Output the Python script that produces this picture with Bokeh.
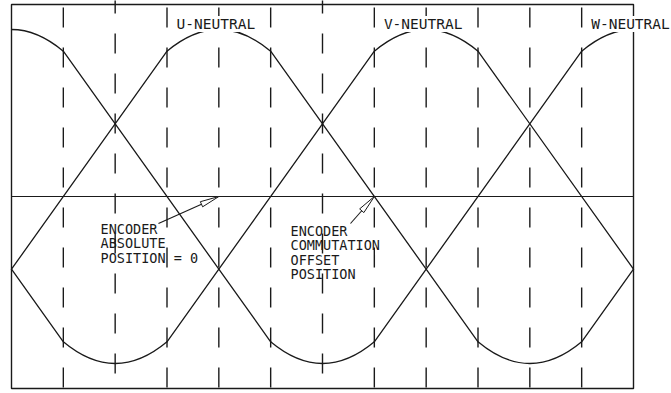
import math
from bokeh.plotting import figure
from bokeh.models import Label, Range1d
from bokeh.core.properties import value
from bokeh.embed import file_html
from bokeh.resources import INLINE

# ---------------- data ----------------
phase_names = ["U", "V", "W"]
peak_step = [4, 8, 0]            # position of each phase's positive peak, in 30-degree steps
steps_per_cycle = 12             # 360 electrical degrees
peak_level = 1.0                 # normalised peak
knee_level = 0.87                # level at +-30 deg from a peak (end of rounded cap)
neutral_labels = ["U-NEUTRAL", "V-NEUTRAL", "W-NEUTRAL"]
dash_steps = [1, 2, 3, 4, 5, 6, 7, 8, 9, 10, 11]
dash_steps_shifted = [2, 6]      # lines whose dash pattern starts at a different phase
callout_tip_x = [4, 7]           # encoder absolute zero, commutation offset (steps)
callout_tip_y = [0.0, 0.0]
callout_lines = [["ENCODER", "ABSOLUTE", "POSITION = 0"],
                 ["ENCODER", "COMMUTATION", "OFFSET", "POSITION"]]

# ---------------- layout helpers (page pixels -> data) ----------------
W_PX, H_PX = 671, 393
PX_X = 622 / 12.0    # pixels per 30-degree step
PX_Y = 167.0         # pixels per unit amplitude
X0 = 11.0            # page x of step 0
YC = 196.0           # page y of zero level


def xd(px):
    return (px - X0) / PX_X


def yd(py):
    return (YC - py) / PX_Y


INK = "#1a1a1a"
FONT = "DejaVu Sans Mono"
LO, HI = 0, steps_per_cycle

p = figure(width=W_PX, height=H_PX, output_backend="svg", toolbar_location=None,
           x_range=Range1d(xd(0), xd(W_PX)), y_range=Range1d(yd(H_PX), yd(0)),
           x_axis_type=None, y_axis_type=None)
p.min_border = 0
p.min_border_left = 0
p.min_border_right = 0
p.min_border_top = 0
p.min_border_bottom = 0
p.outline_line_color = None
p.background_fill_color = "white"
p.border_fill_color = "white"
p.grid.visible = False

# ---------------- dashed step lines ----------------
normal = [s for s in dash_steps if s not in dash_steps_shifted]
p.segment(x0=normal, y0=[yd(7)] * len(normal), x1=normal, y1=[yd(H_PX + 1)] * len(normal),
          line_color=INK, line_width=1.4, line_dash="20 20")
p.segment(x0=dash_steps_shifted, y0=[yd(-7)] * len(dash_steps_shifted),
          x1=dash_steps_shifted, y1=[yd(H_PX + 1)] * len(dash_steps_shifted),
          line_color=INK, line_width=1.4, line_dash="20 20")

# ---------------- box and zero line ----------------
p.quad(left=[LO], right=[HI], top=[yd(4)], bottom=[yd(388)],
       fill_color=None, line_color=INK, line_width=1.4)
p.segment(x0=[LO], y0=[0], x1=[HI], y1=[0], line_color=INK, line_width=1.2)


# ---------------- phase waveforms (clipped to the box) ----------------
def clip_seg(x0, y0, x1, y1):
    if x1 <= LO or x0 >= HI:
        return None
    if x0 < LO:
        y0 = y0 + (y1 - y0) * (LO - x0) / (x1 - x0); x0 = LO
    if x1 > HI:
        y1 = y0 + (y1 - y0) * (HI - x0) / (x1 - x0); x1 = HI
    return x0, y0, x1, y1


def clip_cap(x0, y0, x1, y1, cx, cy):
    if x1 <= LO or x0 >= HI:
        return None
    mx, my = 0.25 * x0 + 0.5 * cx + 0.25 * x1, 0.25 * y0 + 0.5 * cy + 0.25 * y1
    if x0 < LO:   # keep right half
        return mx, my, x1, y1, (cx + x1) / 2, (cy + y1) / 2
    if x1 > HI:   # keep left half
        return x0, y0, mx, my, (x0 + cx) / 2, (y0 + cy) / 2
    return x0, y0, x1, y1, cx, cy


cap = dict(x0=[], y0=[], x1=[], y1=[], cx=[], cy=[])
lin = dict(x0=[], y0=[], x1=[], y1=[])
ctrl = 2 * peak_level - knee_level
for name, pk in zip(phase_names, peak_step):
    for k in (-1, 0, 1):
        c = pk + k * steps_per_cycle
        caps = [(c - 1, knee_level, c + 1, knee_level, c, ctrl),
                (c + 5, -knee_level, c + 7, -knee_level, c + 6, -ctrl)]
        segs = [(c + 1, knee_level, c + 5, -knee_level),
                (c + 7, -knee_level, c + 11, knee_level)]
        for cp in caps:
            r = clip_cap(*cp)
            if r:
                for key, v in zip(("x0", "y0", "x1", "y1", "cx", "cy"), r):
                    cap[key].append(v)
        for sg in segs:
            r = clip_seg(*sg)
            if r:
                for key, v in zip(("x0", "y0", "x1", "y1"), r):
                    lin[key].append(v)

p.quadratic(x0="x0", y0="y0", x1="x1", y1="y1", cx="cx", cy="cy", source=cap,
            line_color=INK, line_width=1.3)
p.segment(x0="x0", y0="y0", x1="x1", y1="y1", source=lin,
          line_color=INK, line_width=1.3, line_cap="round")

# ---------------- neutral labels ----------------
for lab, pk in zip(neutral_labels, peak_step):
    pos = (pk - 1) % steps_per_cycle + 1
    p.add_layout(Label(x=pos, y=yd(23.5), text=lab, text_align="center",
                       text_baseline="alphabetic", text_font=FONT,
                       text_font_size="14.5px", text_color=INK, x_offset=-3,
                       background_fill_color="white"))

# ---------------- call-out texts ----------------
blocks = [(100, 228.5), (290, 230.5)]
tx, ty, tt = [], [], []
for (lx, by), lines in zip(blocks, callout_lines):
    for i, t in enumerate(lines):
        tx.append(xd(lx)); ty.append(yd(by + i * 14.3)); tt.append(t)
p.text(x=tx, y=ty, text=tt, text_font=value(FONT), text_font_size="13.5px",
       text_color=INK, text_baseline="alphabetic", text_align="left")

# ---------------- leaders with slim hollow arrowheads ----------------
starts_px = [(158, 223), (350, 223)]
head_len, head_half = 19.0, 2.8
hx, hy = [], []
for (sx, sy), tx_, ty_ in zip(starts_px, callout_tip_x, callout_tip_y):
    tpx, tpy = X0 + tx_ * PX_X, YC - ty_ * PX_Y
    dx, dy = tpx - sx, tpy - sy
    L = math.hypot(dx, dy)
    ux, uy = dx / L, dy / L
    nx, ny = -uy, ux
    bx, by = tpx - head_len * ux, tpy - head_len * uy
    p.segment(x0=[xd(sx)], y0=[yd(sy)], x1=[xd(bx)], y1=[yd(by)],
              line_color=INK, line_width=1.1)
    hx.append([xd(tpx), xd(bx + head_half * nx), xd(bx - head_half * nx)])
    hy.append([yd(tpy), yd(by + head_half * ny), yd(by - head_half * ny)])
p.patches(xs=hx, ys=hy, fill_color="white", line_color=INK, line_width=1.0)

open("out.html", "w").write(file_html(p, INLINE))
